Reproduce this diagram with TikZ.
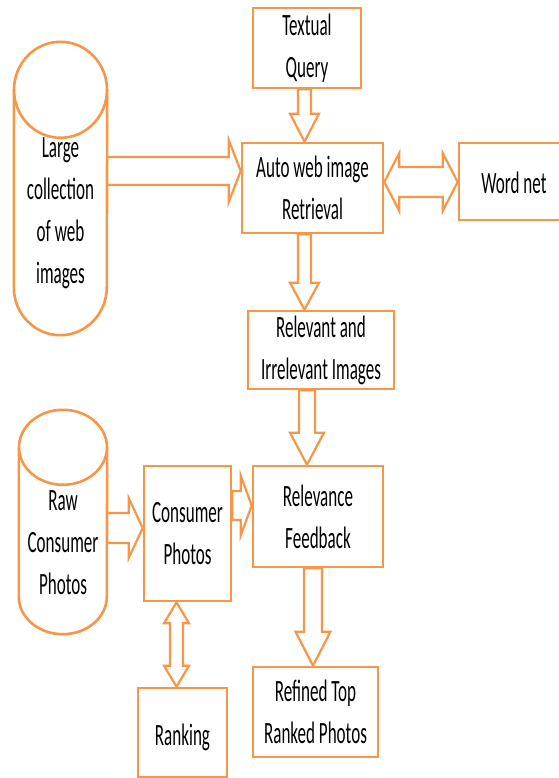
\documentclass[tikz,border=0pt]{standalone}
\usepackage{fontspec}
\setmainfont{Carlito}[FakeStretch=0.55]
\usetikzlibrary{calc}
\definecolor{boxc}{HTML}{F79646}
\tikzset{
  box/.style={draw=boxc, line width=2.6pt, inner sep=0pt, align=center, font=\fontsize{31}{42}\selectfont},
  txt/.style={inner sep=0pt, align=center, font=\fontsize{31}{42}\selectfont},
  blk/.style={draw=boxc, line width=2.2pt, fill=white, line join=miter},
  cyl/.style={draw=boxc, line width=2.6pt}
}
% vertical single arrow: axis, from (top), to (tip below), half shaft, half head, head length
\newcommand\arrV[6]{\draw[blk] let \p1=(#2 -| #1), \p2=(#3 -| #1) in
  (\x1-#4,\y1) -- (\x1-#4,\y2+#6) -- (\x1-#5,\y2+#6) -- (\x1,\y2) -- (\x1+#5,\y2+#6) -- (\x1+#4,\y2+#6) -- (\x1+#4,\y1) -- cycle;}
% vertical double arrow
\newcommand\arrVV[6]{\draw[blk] let \p1=(#2 -| #1), \p2=(#3 -| #1) in
  (\x1,\y1) -- (\x1-#5,\y1-#6) -- (\x1-#4,\y1-#6) -- (\x1-#4,\y2+#6) -- (\x1-#5,\y2+#6) -- (\x1,\y2) -- (\x1+#5,\y2+#6) -- (\x1+#4,\y2+#6) -- (\x1+#4,\y1-#6) -- (\x1+#5,\y1-#6) -- cycle;}
% horizontal single arrow: axis, from (left), to (tip right)
\newcommand\arrH[6]{\draw[blk] let \p1=(#2 |- #1), \p2=(#3 |- #1) in
  (\x1,\y1+#4) -- (\x2-#6,\y1+#4) -- (\x2-#6,\y1+#5) -- (\x2,\y1) -- (\x2-#6,\y1-#5) -- (\x2-#6,\y1-#4) -- (\x1,\y1-#4) -- cycle;}
% horizontal double arrow
\newcommand\arrHH[6]{\draw[blk] let \p1=(#2 |- #1), \p2=(#3 |- #1) in
  (\x1,\y1) -- (\x1+#6,\y1+#5) -- (\x1+#6,\y1+#4) -- (\x2-#6,\y1+#4) -- (\x2-#6,\y1+#5) -- (\x2,\y1) -- (\x2-#6,\y1-#5) -- (\x2-#6,\y1-#4) -- (\x1+#6,\y1-#4) -- (\x1+#6,\y1-#5) -- cycle;}
\begin{document}
\begin{tikzpicture}[x=1pt,y=-1pt]
\useasboundingbox (0,0) rectangle (558,778);
% boxes
\node[box, minimum width=108pt, minimum height=80pt] (tq) at (307,48) {Textual\\Query};
\node[box, minimum width=141pt, minimum height=90pt] (auto) at (312.5,188) {Auto web image\\Retrieval};
\node[box, minimum width=116pt, minimum height=77pt] (wn) at (517,181.5) {};
\node[txt] (wntxt) at (514,183) {Word net};
\node[box, minimum width=146pt, minimum height=78pt] (rel) at (321,350) {Relevant and\\Irrelevant Images};
\node[box, minimum width=130pt, minimum height=101pt] (relf) at (318,516.5) {Relevance\\Feedback};
\node[box, minimum width=87pt, minimum height=135pt] (cons) at (187.5,533.5) {Consumer\\Photos};
\node[box, minimum width=89pt, minimum height=89pt] (rank) at (182.5,732.5) {};
\node[txt] (ranktxt) at (182.5,737) {Ranking};
\node[box, minimum width=125pt, minimum height=90pt] (ref) at (315.5,712) {Refined Top\\Ranked Photos};
% cylinders
\node[minimum width=93pt, minimum height=293pt, inner sep=0pt] (large) at (60.5,188.5) {};
\draw[cyl] ([yshift=-48pt]large.north west) -- ([yshift=48pt]large.south west)
  arc[start angle=180, end angle=360, x radius=46.5pt, y radius=48pt] -- ([yshift=-48pt]large.north east);
\draw[cyl] ([yshift=-48pt]large.north) ellipse[x radius=46.5pt, y radius=48pt];
\node[txt] (largetxt) at (60.5,213) {Large\\collection\\of web\\images};
\node[minimum width=88pt, minimum height=224pt, inner sep=0pt] (raw) at (63,522) {};
\draw[cyl] ([yshift=-37.5pt]raw.north west) -- ([yshift=37.5pt]raw.south west)
  arc[start angle=180, end angle=360, x radius=44pt, y radius=37.5pt] -- ([yshift=-37.5pt]raw.north east);
\draw[cyl] ([yshift=-37.5pt]raw.north) ellipse[x radius=44pt, y radius=37.5pt];
\node[txt] (rawtxt) at (63,543) {Raw\\Consumer\\Photos};
% axes
\coordinate (ax1) at (304.5,0);
\coordinate (ax2) at (307,0);
\coordinate (ax3) at (313,0);
\coordinate (ax4) at (176.5,0);
\coordinate (ay1) at (0,171);
\coordinate (ay2) at (0,182);
\coordinate (ay3) at (0,505.5);
\coordinate (ay4) at (0,528);
% arrows
\arrV{ax1}{tq.south}{auto.north}{6.5pt}{14.5pt}{28pt}
\arrV{ax1}{auto.south}{rel.north}{6.5pt}{14.5pt}{27pt}
\arrV{ax2}{rel.south}{relf.north}{8pt}{17pt}{32pt}
\arrV{ax3}{relf.south}{ref.north}{9pt}{17.5pt}{34pt}
\arrVV{ax4}{cons.south}{rank.north}{6.5pt}{12.5pt}{21pt}
\arrH{ay1}{large.east}{auto.west}{14pt}{31pt}{12pt}
\arrHH{ay2}{auto.east}{wn.west}{15pt}{29pt}{15pt}
\arrH{ay3}{cons.east}{relf.west}{14.5pt}{30pt}{11pt}
\arrH{ay4}{raw.east}{cons.west}{15pt}{30pt}{14pt}
\end{tikzpicture}
\end{document}
